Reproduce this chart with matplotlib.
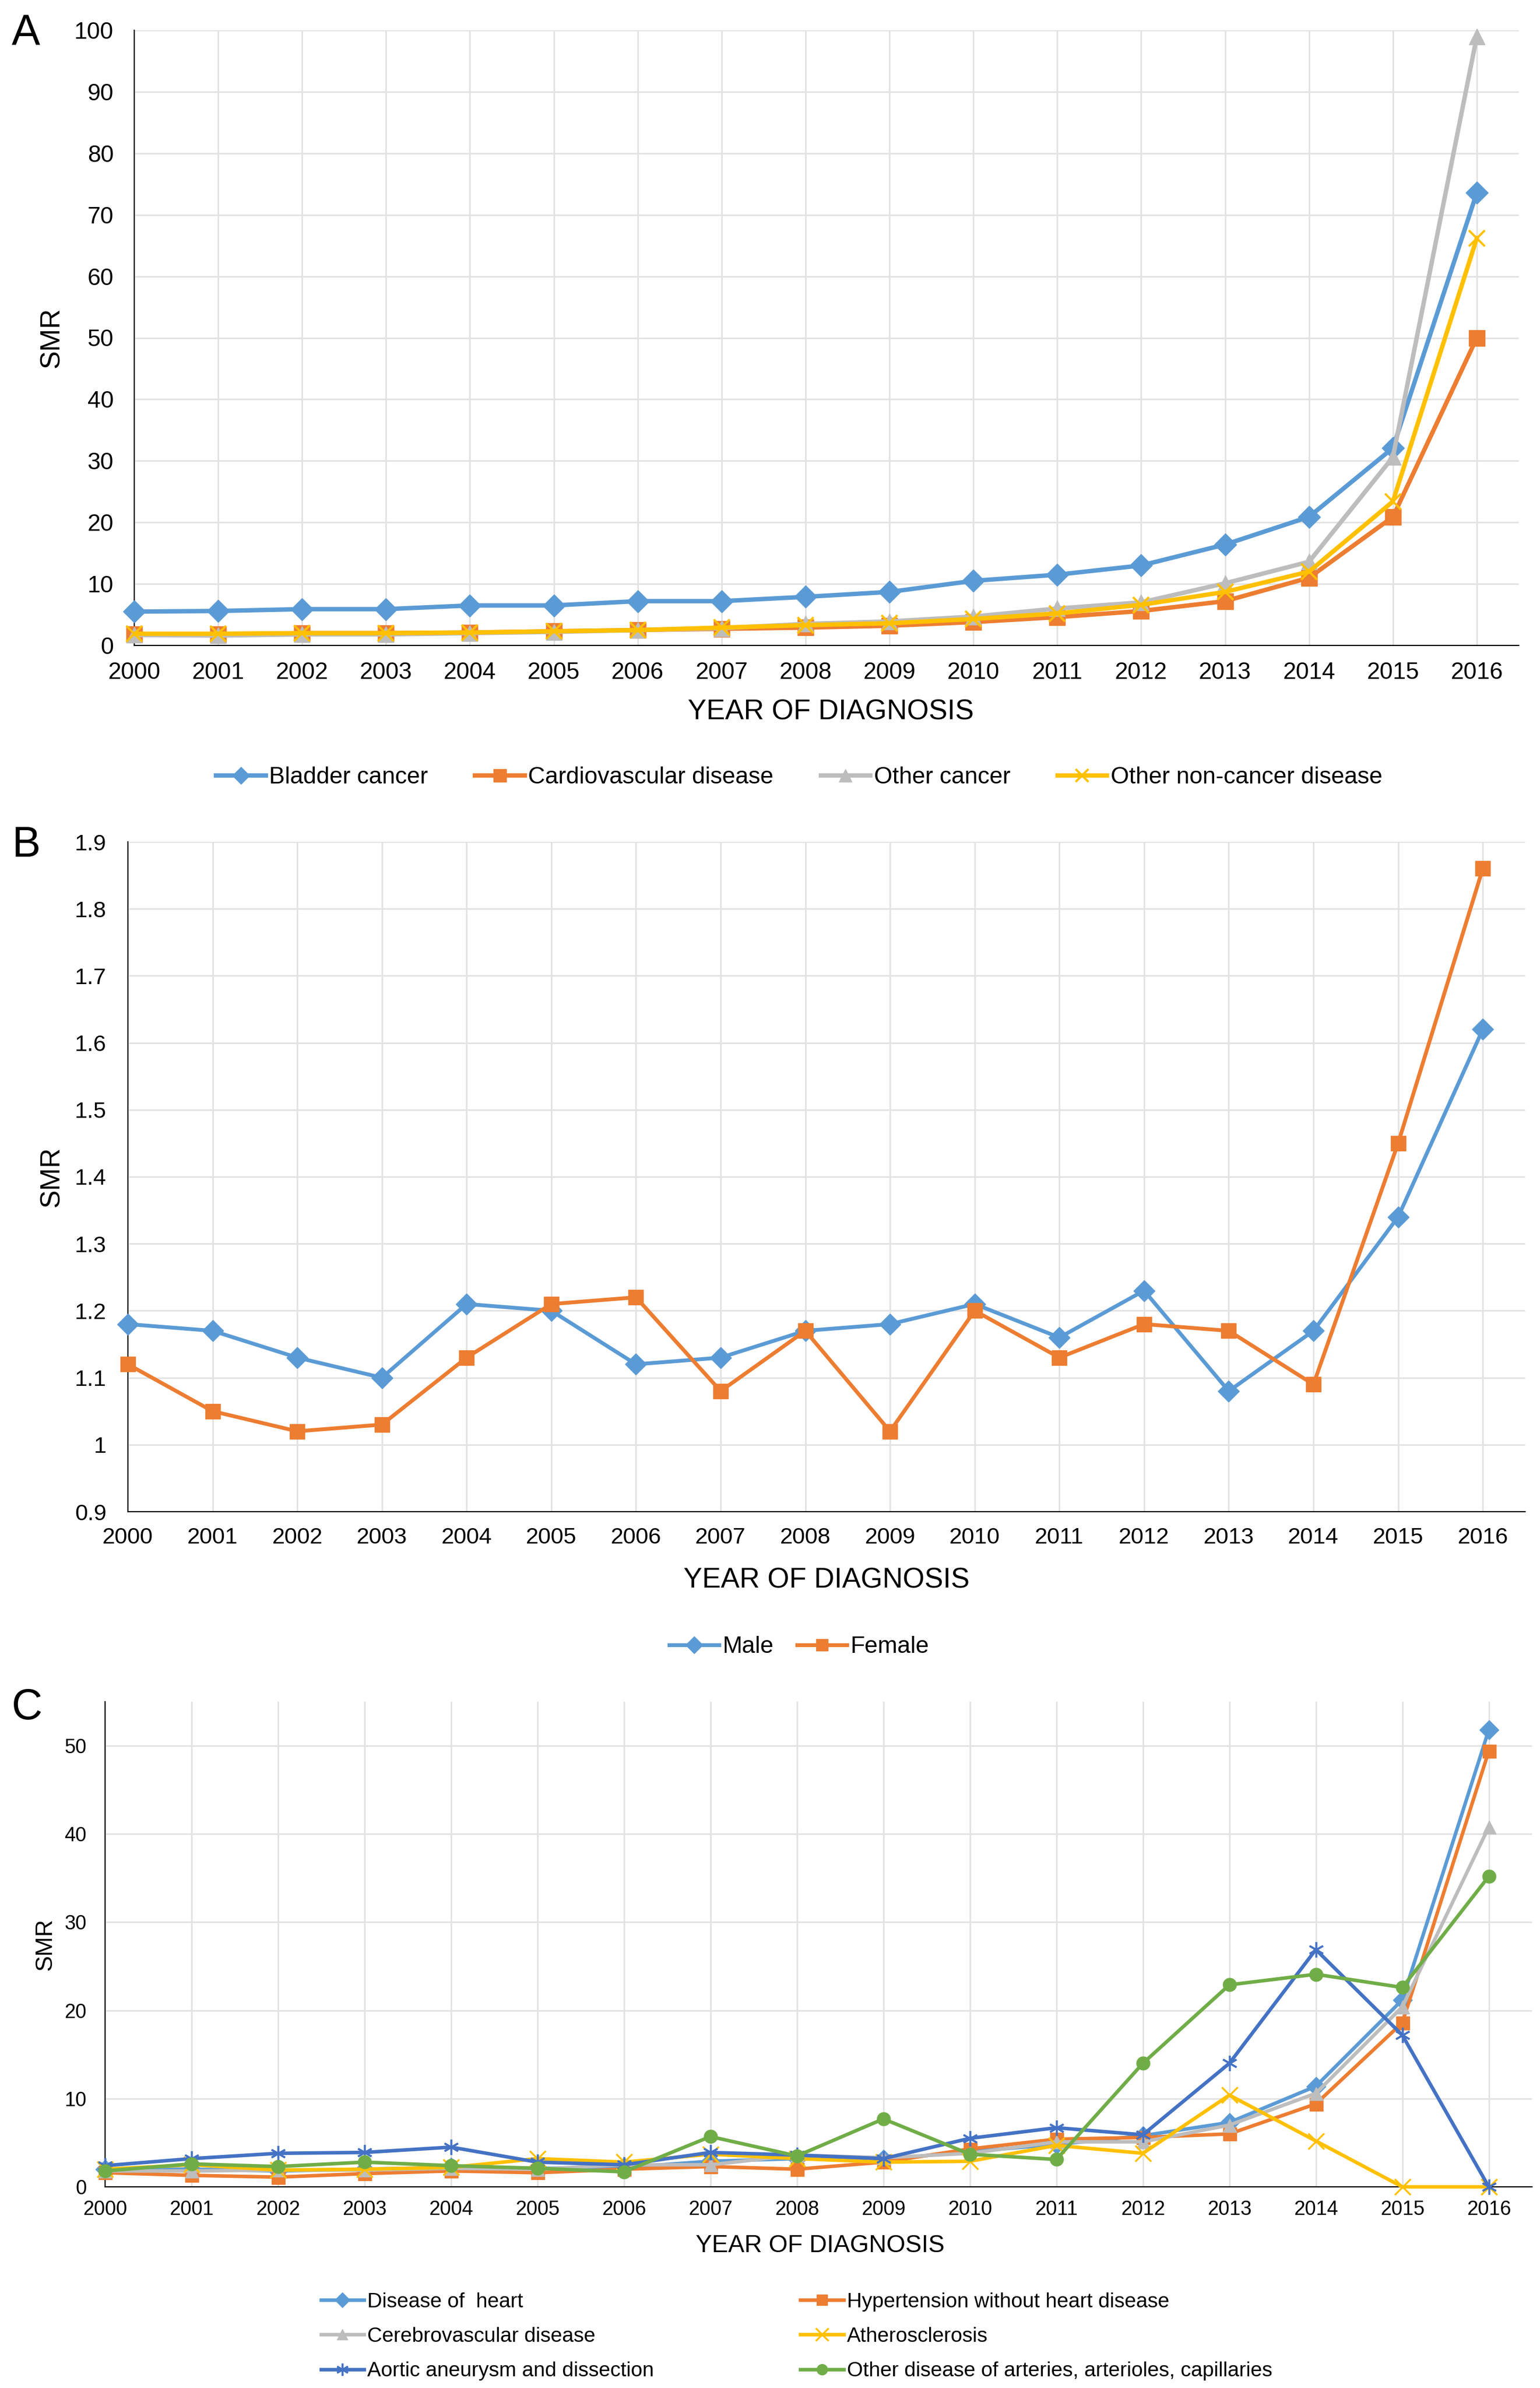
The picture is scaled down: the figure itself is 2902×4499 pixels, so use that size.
import matplotlib
matplotlib.use("Agg")
import matplotlib.pyplot as plt

plt.rcParams['font.family'] = ['Liberation Sans', 'DejaVu Sans']

W, H = 2902, 4499
years = list(range(2000, 2017))

# panel A: cause of death
a_names = ["Bladder cancer", "Cardiovascular disease", "Other cancer", "Other non-cancer disease"]
a_bladder = [5.5, 5.6, 5.9, 5.9, 6.5, 6.5, 7.2, 7.2, 7.9, 8.7, 10.5, 11.5, 13.0, 16.4, 20.9, 32.1, 73.6]
a_cardio = [1.8, 1.8, 2.0, 2.0, 2.1, 2.3, 2.5, 2.7, 2.9, 3.2, 3.8, 4.6, 5.6, 7.2, 11.0, 20.9, 50.0]
a_othcan = [1.7, 1.6, 1.8, 1.8, 2.0, 2.2, 2.5, 2.8, 3.5, 3.9, 4.7, 6.0, 7.0, 10.1, 13.6, 30.6, 99.0]
a_othnon = [1.9, 1.9, 2.0, 2.0, 2.1, 2.3, 2.5, 2.9, 3.3, 3.6, 4.3, 5.2, 6.6, 8.7, 12.0, 23.4, 66.2]
a_yticks = list(range(0, 101, 10))

# panel B: sex
b_names = ["Male", "Female"]
b_male = [1.18, 1.17, 1.13, 1.10, 1.21, 1.20, 1.12, 1.13, 1.17, 1.18, 1.21, 1.16, 1.23, 1.08, 1.17, 1.34, 1.62]
b_female = [1.12, 1.05, 1.02, 1.03, 1.13, 1.21, 1.22, 1.08, 1.17, 1.02, 1.20, 1.13, 1.18, 1.17, 1.09, 1.45, 1.86]
b_yticks = [0.9, 1.0, 1.1, 1.2, 1.3, 1.4, 1.5, 1.6, 1.7, 1.8, 1.9]
b_ylabels = ["0.9", "1", "1.1", "1.2", "1.3", "1.4", "1.5", "1.6", "1.7", "1.8", "1.9"]

# panel C: cardiovascular subtypes
c_names = ["Disease of  heart", "Hypertension without heart disease", "Cerebrovascular disease",
           "Atherosclerosis", "Aortic aneurysm and dissection",
           "Other disease of arteries, arterioles, capillaries"]
c_heart = [2.0, 2.0, 1.8, 2.0, 2.2, 2.1, 2.2, 2.9, 3.2, 3.1, 4.0, 4.8, 5.8, 7.3, 11.4, 21.2, 51.8]
c_hyper = [1.6, 1.3, 1.1, 1.5, 1.8, 1.6, 2.0, 2.3, 2.0, 2.8, 4.3, 5.4, 5.6, 6.0, 9.4, 18.6, 49.4]
c_cereb = [1.8, 1.8, 1.9, 1.9, 2.1, 2.0, 2.5, 2.5, 3.6, 3.3, 3.8, 5.1, 5.1, 7.0, 10.6, 20.4, 40.8]
c_ather = [2.0, 2.5, 1.9, 2.0, 2.2, 3.2, 2.8, 3.7, 3.2, 2.8, 2.9, 4.7, 3.8, 10.4, 5.2, 0.0, 0.0]
c_aorta = [2.4, 3.2, 3.8, 3.9, 4.5, 2.8, 2.5, 3.9, 3.6, 3.2, 5.5, 6.7, 5.9, 14.0, 26.9, 17.2, 0.0]
c_other = [1.8, 2.6, 2.3, 2.8, 2.4, 2.1, 1.7, 5.7, 3.5, 7.7, 3.7, 3.1, 14.0, 22.9, 24.1, 22.6, 35.2]
c_yticks = [0, 10, 20, 30, 40, 50]

blue = "#5B9BD5"
orange = "#ED7D31"
gray = "#BDBDBD"
gold = "#FFC000"
dblue = "#4472C4"
green = "#70AD47"
asterisk = (6, 2, 0)


def rect(l, t, r, b):
    return [l / W, 1 - b / H, (r - l) / W, (b - t) / H]


def style(ax, ylim, yticks, fs, xpad, ypad):
    ax.set_xlim(2000, 2016.5)
    ax.set_ylim(*ylim)
    ax.set_xticks(years)
    ax.set_yticks(yticks)
    ax.grid(True, color="#e3e3e3", lw=2.2)
    ax.set_axisbelow(True)
    for s in ["top", "right"]:
        ax.spines[s].set_visible(False)
    for s in ["left", "bottom"]:
        ax.spines[s].set_linewidth(1.6)
        ax.spines[s].set_color("black")
    ax.tick_params(axis="x", length=0, labelsize=fs, pad=xpad)
    ax.tick_params(axis="y", length=0, labelsize=fs, pad=ypad)


fig = plt.figure(figsize=(W / 100, H / 100), dpi=100)

# ---------- A ----------
axA = fig.add_axes(rect(253, 57, 2862, 1216))
style(axA, (0, 100), a_yticks, 32, 22, 28)
a_series = [(a_bladder, blue, "D"), (a_cardio, orange, "s"), (a_othcan, gray, "^"), (a_othnon, gold, "x")]
for (vals, col, mk), name in zip(a_series, a_names):
    axA.plot(years, vals, color=col, lw=6, marker=mk, markersize=21, mec=col, mfc=col,
             mew=3 if mk == "x" else 1, label=name, clip_on=False, zorder=3)
fig.text(22 / W, 1 - 25 / H, "A", fontsize=58, ha="left", va="top")
fig.text(98 / W, 1 - 636 / H, "SMR", fontsize=37, rotation=90, ha="center", va="center")
fig.text(1565 / W, 1 - 1341 / H, "YEAR OF DIAGNOSIS", fontsize=38, ha="center", va="center")
h, l = axA.get_legend_handles_labels()
fig.legend(h, l, loc="center", bbox_to_anchor=(1506 / W, 1 - 1465 / H), ncol=4, frameon=False,
           fontsize=32, handlelength=2.1, handletextpad=0.15, columnspacing=2.0, markerscale=0.8)

# ---------- B ----------
axB = fig.add_axes(rect(241, 1586, 2874, 2848))
style(axB, (0.9, 1.9), b_yticks, 31, 21, 29)
axB.set_yticklabels(b_ylabels)
for vals, col, mk, name in [(b_male, blue, "D", b_names[0]), (b_female, orange, "s", b_names[1])]:
    axB.plot(years, vals, color=col, lw=5.2, marker=mk, markersize=20, mec=col, mfc=col,
             label=name, clip_on=False, zorder=3)
fig.text(22 / W, 1 - 1555 / H, "B", fontsize=58, ha="left", va="top")
fig.text(98 / W, 1 - 2217 / H, "SMR", fontsize=37, rotation=90, ha="center", va="center")
fig.text(1558 / W, 1 - 2978 / H, "YEAR OF DIAGNOSIS", fontsize=38, ha="center", va="center")
h, l = axB.get_legend_handles_labels()
fig.legend(h, l, loc="center", bbox_to_anchor=(1506 / W, 1 - 3103 / H), ncol=2, frameon=False,
           fontsize=32, handlelength=2.1, handletextpad=0.15, columnspacing=1.0, markerscale=0.8)

# ---------- C ----------
axC = fig.add_axes(rect(198, 3206, 2887, 4120))
style(axC, (0, 55), c_yticks, 27, 18, 25)
c_series = [(c_heart, blue, "D"), (c_hyper, orange, "s"), (c_cereb, gray, "^"),
            (c_ather, gold, "x"), (c_aorta, dblue, asterisk), (c_other, green, "o")]
lines = []
for (vals, col, mk), name in zip(c_series, c_names):
    thin = mk in ("x", asterisk)
    ln, = axC.plot(years, vals, color=col, lw=4.8, marker=mk, markersize=21 if thin else 18,
                   mec=col, mfc=col, mew=2.5 if thin else 1, label=name, clip_on=False, zorder=3)
    lines.append(ln)
fig.text(22 / W, 1 - 3180 / H, "C", fontsize=58, ha="left", va="top")
fig.text(85 / W, 1 - 3663 / H, "SMR", fontsize=32, rotation=90, ha="center", va="center")
fig.text(1545 / W, 1 - 4231 / H, "YEAR OF DIAGNOSIS", fontsize=33, ha="center", va="center")
order = [0, 2, 4, 1, 3, 5]
fig.legend([lines[i] for i in order], [c_names[i] for i in order], loc="center",
           bbox_to_anchor=(1501 / W, 1 - 4402 / H), ncol=2, frameon=False, fontsize=28,
           handlelength=2.1, handletextpad=0.15, columnspacing=7.1, labelspacing=0.75,
           markerscale=0.8)

fig.savefig("out.png", dpi=100)
